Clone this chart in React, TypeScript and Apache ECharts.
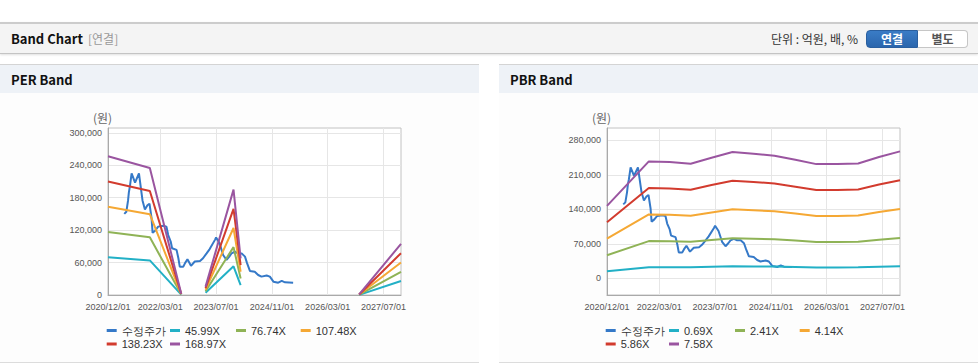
import React, { useEffect, useRef } from 'react';
import * as echarts from 'echarts';

// ---------- data ----------
const X_MIN = '2020-12-01';
const X_MAX = '2027-12-01';
const X_LABEL_DATES = ['2020-12-01', '2022-03-01', '2023-07-01', '2024-11-01', '2026-03-01', '2027-07-01'];

const PRICE_NAME = '수정주가';
const PRICE_DATES = [
  '2021-04-22', '2021-05-10', '2021-05-25', '2021-06-01', '2021-06-10', '2021-06-25', '2021-07-25', '2021-08-28',
  '2021-09-28', '2021-10-19', '2021-11-10', '2021-11-28', '2021-12-16', '2021-12-25', '2022-01-16', '2022-02-12',
  '2022-03-28', '2022-04-25', '2022-05-10', '2022-06-01', '2022-06-13', '2022-07-22', '2022-08-07', '2022-08-19',
  '2022-09-19', '2022-10-04', '2022-10-25', '2022-11-25', '2022-12-28', '2023-02-12', '2023-03-10', '2023-04-10',
  '2023-05-07', '2023-06-22', '2023-07-02', '2023-08-01', '2023-09-01', '2023-10-01', '2023-10-25', '2023-11-13',
  '2023-12-13', '2024-01-10', '2024-02-10', '2024-03-10', '2024-03-28', '2024-04-22', '2024-06-03', '2024-07-03',
  '2024-08-01', '2024-09-15', '2024-10-13', '2024-11-13', '2024-12-25', '2025-01-25', '2025-02-22', '2025-05-04',
];
const PRICE_VALUES = [
  150000, 154000, 175000, 190000, 201000, 225000, 208000, 225000,
  175000, 158000, 166000, 169000, 142000, 115000, 119000, 126500,
  128000, 126500, 111000, 99000, 86500, 83500, 68000, 52500,
  52500, 59000, 66000, 54000, 62000, 63000, 68000, 77000,
  85000, 102000, 106500, 96000, 74000, 65000, 71000, 77000,
  80000, 77000, 77000, 71000, 59000, 44500, 43000, 37000,
  34000, 36000, 34000, 24700, 22800, 26000, 23500, 22800,
];

// PER band
const PER_NAMES = ['45.99X', '76.74X', '107.48X', '138.23X', '168.97X'];
const PER_DATES = ['2020-12-01', '2021-12-01', '2022-09-01', '2023-01-01', '2023-04-01', '2023-12-01', '2024-02-01', '2025-06-01', '2026-12-01', '2027-12-01'];
const PER_45 = [69900, 64000, 700, null, 4200, 53100, 18400, null, 300, 25800];
const PER_76 = [116600, 106700, 1200, null, 7000, 88600, 30700, null, 500, 43000];
const PER_107 = [163300, 149500, 1600, null, 9900, 124000, 43000, null, 800, 60200];
const PER_138 = [210000, 192300, 2100, null, 12700, 159500, 55300, null, 1000, 77400];
const PER_168 = [256700, 235000, 2500, null, 15500, 195000, 67600, null, 1200, 94600];
const PER_Y_TICKS = [0, 60000, 120000, 180000, 240000, 300000];

// PBR band
const PBR_NAMES = ['0.69X', '2.41X', '4.14X', '5.86X', '7.58X'];
const PBR_DATES = ['2020-12-01', '2021-12-01', '2022-06-01', '2022-12-01', '2023-06-01', '2023-12-01', '2024-06-01', '2024-12-01', '2025-06-01', '2025-12-01', '2026-06-01', '2026-12-01', '2027-06-01', '2027-12-01'];
const PBR_069 = [14000, 22500, 22400, 22100, 23200, 24300, 24000, 23600, 22800, 22000, 22000, 22100, 23300, 24400];
const PBR_241 = [46700, 75400, 75000, 73900, 77800, 81400, 80300, 79100, 76500, 73700, 73700, 74100, 78200, 81900];
const PBR_414 = [80300, 129600, 128800, 126900, 133600, 139900, 138000, 135800, 131400, 126500, 126500, 127300, 134400, 140600];
const PBR_586 = [113600, 183400, 182300, 179700, 189100, 198000, 195400, 192300, 185900, 179100, 179100, 180200, 190200, 199100];
const PBR_758 = [147000, 237200, 235800, 232400, 244600, 256100, 252700, 248700, 240500, 231700, 231700, 233100, 246000, 257500];
const PBR_Y_TICKS = [0, 70000, 140000, 210000, 280000];

// ---------- styles ----------
const COLORS = ['#3579c8', '#22b0c6', '#8fb356', '#f5a834', '#d23b2e', '#9a55a0'];
const AXIS_FONT = '"Liberation Sans", Arial, sans-serif';
const KR_FONT = '"Noto Sans CJK KR", "Liberation Sans", sans-serif';
const LEG_X = [106.7, 170, 236, 300.7];
const LEG_TOP = [231, 244.5];

const toTs = (s: string) => {
  const [y, m, d] = s.split('-').map(Number);
  return Date.UTC(y, m - 1, d);
};
const fmtDate = (v: number) => {
  const d = new Date(v);
  return `${d.getUTCFullYear()}/${String(d.getUTCMonth() + 1).padStart(2, '0')}/${String(d.getUTCDate()).padStart(2, '0')}`;
};

function makeOption(names: string[], dates: string[], bands: (number | null)[][], yMin: number, yMax: number, yTicks: number[]) {
  const allNames = [PRICE_NAME, ...names];
  const xTicks = X_LABEL_DATES.map(toTs);
  const series: any[] = [
    {
      name: PRICE_NAME,
      type: 'line',
      data: PRICE_DATES.map((d, i) => [toTs(d), PRICE_VALUES[i]]),
      showSymbol: false,
      symbol: 'none',
      lineStyle: { width: 2, color: COLORS[0] },
      itemStyle: { color: COLORS[0] },
      emphasis: { disabled: true },
    },
    ...bands.map((vals, k) => ({
      name: names[k],
      type: 'line',
      data: dates.map((d, i) => [toTs(d), vals[i] === null ? '-' : vals[i]]),
      showSymbol: false,
      symbol: 'none',
      connectNulls: false,
      lineStyle: { width: 2, color: COLORS[k + 1] },
      itemStyle: { color: COLORS[k + 1] },
      emphasis: { disabled: true },
    })),
  ];
  return {
    animation: false,
    color: COLORS,
    grid: {
      left: 108, right: 78, top: 35, bottom: 67,
      show: true, borderColor: '#c2c2c2', borderWidth: 1, backgroundColor: '#ffffff',
      containLabel: false, outerBoundsMode: 'none',
    },
    graphic: [
      {
        type: 'text', left: 93, top: 18,
        style: { text: '(원)', fontSize: 12, fill: '#666', fontFamily: KR_FONT },
      },
    ],
    legend: allNames.map((n, i) => ({
      data: [n],
      left: LEG_X[i % 4],
      top: LEG_TOP[Math.floor(i / 4)],
      padding: 0,
      itemGap: 0,
      itemWidth: 10,
      itemHeight: 3,
      icon: 'rect',
      selectedMode: false,
      textStyle: { fontSize: 11, color: '#333', fontFamily: AXIS_FONT, lineHeight: 13 },
    })),
    xAxis: {
      type: 'value',
      min: toTs(X_MIN),
      max: toTs(X_MAX),
      axisLine: { show: true, onZero: false, lineStyle: { color: '#a9a9a9' } },
      axisTick: { show: false, customValues: xTicks },
      axisLabel: {
        customValues: xTicks, formatter: (v: number) => fmtDate(v),
        fontSize: 9, color: '#555', margin: 7, fontFamily: AXIS_FONT,
      },
      splitLine: { show: true, lineStyle: { color: '#e6e6e6', width: 1 } },
    },
    yAxis: {
      type: 'value',
      min: yMin,
      max: yMax,
      axisLine: { show: true, lineStyle: { color: '#a9a9a9' } },
      axisTick: { show: false, customValues: yTicks },
      axisLabel: {
        customValues: yTicks, formatter: (v: number) => v.toLocaleString('en-US'),
        fontSize: 9, color: '#555', margin: 6, fontFamily: AXIS_FONT,
      },
      splitLine: { show: true, lineStyle: { color: '#e6e6e6', width: 1 } },
    },
    series,
  };
}

function ChartBox({ option, style }: { option: any; style: React.CSSProperties }) {
  const ref = useRef<HTMLDivElement>(null);
  useEffect(() => {
    const chart = echarts.init(ref.current!, null, { renderer: 'svg' });
    chart.setOption(option);
    return () => chart.dispose();
  }, []);
  return <div ref={ref} style={style} />;
}

function Panel({ left, title, option }: { left: number; title: string; option: any }) {
  return (
    <div style={{ position: 'absolute', left, top: 64, width: 479, height: 298, background: '#fdfdfd', borderBottom: '1px solid #dcdcdc' }}>
      <div style={{
        position: 'absolute', left: 0, top: 0, width: 479, height: 28, background: '#eef2f7',
        borderTop: '1px solid #d4d4d4',
      }}>
        <span style={{ position: 'absolute', left: 11, top: 0, lineHeight: '30px', fontSize: 13, fontWeight: 700, color: '#111', fontFamily: KR_FONT }}>{title}</span>
      </div>
      <ChartBox option={option} style={{ position: 'absolute', left: 0, top: 29, width: 479, height: 269 }} />
    </div>
  );
}

export default function App() {
  useEffect(() => {
    document.body.style.margin = '0';
  }, []);
  const perOption = makeOption(PER_NAMES, PER_DATES, [PER_45, PER_76, PER_107, PER_138, PER_168], 0, 309000, PER_Y_TICKS);
  const pbrOption = makeOption(PBR_NAMES, PBR_DATES, [PBR_069, PBR_241, PBR_414, PBR_586, PBR_758], -34000, 305000, PBR_Y_TICKS);
  return (
    <div style={{ position: 'relative', width: 978, height: 364, overflow: 'hidden', background: '#fff', fontFamily: KR_FONT }}>
      <div style={{
        position: 'absolute', left: 0, top: 22, width: 978, height: 29, background: '#f4f4f4',
        borderTop: '2px solid #cccccc', borderBottom: '1px solid #c4c4c4', boxShadow: '0 1px 2px rgba(0,0,0,0.12)',
      }}>
        <span style={{ position: 'absolute', left: 11, top: 0, lineHeight: '29px', fontSize: 13, fontWeight: 700, color: '#111' }}>Band Chart</span>
        <span style={{ position: 'absolute', left: 88, top: 0, lineHeight: '29px', fontSize: 12, color: '#999' }}>[연결]</span>
        <span style={{ position: 'absolute', right: 120, top: 0, lineHeight: '29px', fontSize: 12, color: '#333' }}>단위 : 억원, 배, %</span>
        <div style={{
          position: 'absolute', left: 866, top: 6, width: 52, height: 18, boxSizing: 'border-box',
          background: 'linear-gradient(#3a7cc6, #2b66ad)', border: '1px solid #2a5f9f', borderRadius: '4px 0 0 4px',
          color: '#fff', fontSize: 12, fontWeight: 700, textAlign: 'center', lineHeight: '16px',
        }}>연결</div>
        <div style={{
          position: 'absolute', left: 918, top: 6, width: 50, height: 18, boxSizing: 'border-box',
          background: '#fff', border: '1px solid #c6c6c6', borderLeft: 'none', borderRadius: '0 4px 4px 0',
          color: '#555', fontSize: 12, fontWeight: 700, textAlign: 'center', lineHeight: '16px',
        }}>별도</div>
      </div>
      <Panel left={0} title="PER Band" option={perOption} />
      <Panel left={499} title="PBR Band" option={pbrOption} />
    </div>
  );
}
